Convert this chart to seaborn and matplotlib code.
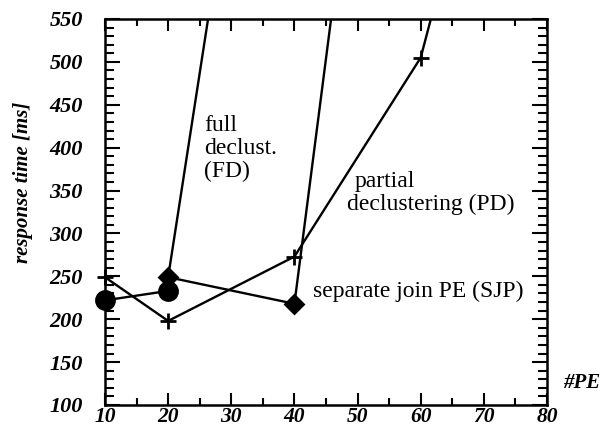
import matplotlib
matplotlib.use('Agg')
import matplotlib.pyplot as plt
from matplotlib.ticker import MultipleLocator
import seaborn as sns

# values (response time in ms vs number of PEs)
pe_circle = [10, 20]
rt_circle = [222, 233]
pe_fd = [20, 30]
rt_fd = [249, 725]
pe_sjp = [20, 40, 50]
rt_sjp = [249, 218, 790]
pe_pd = [10, 20, 40, 60, 70]
rt_pd = [249, 198, 273, 505, 785]

x_ticks = [10, 20, 30, 40, 50, 60, 70, 80]
y_ticks = [100, 150, 200, 250, 300, 350, 400, 450, 500, 550]

sns.set_style('ticks')
plt.rcParams['font.family'] = ['Liberation Serif', 'DejaVu Serif']
plt.rcParams['text.color'] = 'black'
plt.rcParams['axes.labelcolor'] = 'black'
plt.rcParams['xtick.color'] = 'black'
plt.rcParams['ytick.color'] = 'black'

fig = plt.figure(figsize=(6.07, 4.28), dpi=100)
ax = fig.add_axes([105 / 607, 23 / 428, 442 / 607, 386 / 428])

series = [
    (pe_fd, rt_fd, None, 0),
    (pe_circle, rt_circle, 'o', 13),
    (pe_sjp, rt_sjp, 'D', 9),
    (pe_pd, rt_pd, '+', 12),
]
for xs, ys, mk, ms in series:
    sns.lineplot(x=xs, y=ys, ax=ax, color='black', lw=1.7,
                 sort=False, estimator=None)
    if mk:
        pts = [(x, y) for x, y in zip(xs, ys) if y <= 550]
        px, py = zip(*pts)
        ax.plot(px, py, ls='none', marker=mk, ms=ms, color='black',
                mew=2, clip_on=False, zorder=5)

ax.set_xlim(10, 80)
ax.set_ylim(100, 550)
ax.set_xticks(x_ticks)
ax.set_yticks(y_ticks)
ax.xaxis.set_minor_locator(MultipleLocator(5))
ax.yaxis.set_minor_locator(MultipleLocator(10))
ax.tick_params(direction='in', top=True, right=True, which='both',
               width=1.5, color='black')
ax.tick_params(axis='x', which='major', length=8.5, pad=1.5, labelsize=15.5)
ax.tick_params(axis='x', which='minor', length=5)
ax.tick_params(axis='y', which='major', length=11, pad=16, labelsize=16)
ax.tick_params(axis='y', which='minor', length=6.5)
for lab in ax.get_xticklabels() + ax.get_yticklabels():
    lab.set_fontweight('bold')
    lab.set_fontstyle('italic')
for sp in ax.spines.values():
    sp.set_linewidth(1.8)
    sp.set_color('black')

ax.set_ylabel('response time [ms]', fontsize=15, fontweight='bold',
              fontstyle='italic')
ax.yaxis.set_label_coords(-0.163, 0.578)
fig.text(563 / 607, 1 - 383 / 428, '#PE', fontsize=15, fontweight='bold',
         fontstyle='italic', va='center', ha='left')

for txt, xx, yy in [('full', 25.7, 419), ('declust.', 25.7, 392.5),
                    ('(FD)', 25.7, 366), ('partial', 49.6, 354),
                    ('declustering (PD)', 48.4, 327),
                    ('separate join PE (SJP)', 43.0, 226)]:
    ax.text(xx, yy, txt, fontsize=17, va='baseline', ha='left')

fig.savefig('out.png', dpi=100)
